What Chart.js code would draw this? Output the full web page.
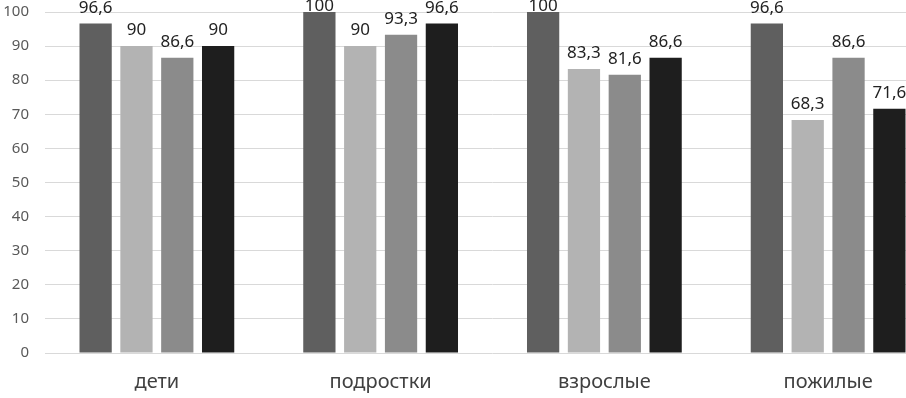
<!DOCTYPE html>
<html>
<head>
<meta charset="utf-8">
<script src="https://cdn.jsdelivr.net/npm/chart.js@4"></script>
<style>
  html, body { margin: 0; padding: 0; background: #fff; overflow: hidden; }
  #wrap { width: 940px; height: 398px; }
</style>
</head>
<body>
<div id="wrap"><canvas id="myChart"></canvas></div>
<script>
const categories = ["дети", "подростки", "взрослые", "пожилые"];
const series1 = [96.6, 100, 100, 96.6];
const series2 = [90, 90, 83.3, 68.3];
const series3 = [86.6, 93.3, 81.6, 86.6];
const series4 = [90, 96.6, 86.6, 71.6];
const yTicks = [0, 10, 20, 30, 40, 50, 60, 70, 80, 90, 100];

const fontFamily = "'Noto Sans', 'DejaVu Sans', sans-serif";

// labels over bars, excel style with comma decimals
// (kept inside the canvas at the top like excel does)
const barLabels = {
  id: "barLabels",
  afterDatasetsDraw(chart) {
    const ctx = chart.ctx;
    ctx.save();
    ctx.font = "17px " + fontFamily;
    ctx.fillStyle = "#222";
    ctx.textAlign = "center";
    ctx.textBaseline = "bottom";
    chart.data.datasets.forEach((ds, i) => {
      chart.getDatasetMeta(i).data.forEach((bar, j) => {
        const txt = String(ds.data[j]).replace(".", ",");
        ctx.fillText(txt, bar.x, Math.max(bar.y - 7, 15));
      });
    });
    ctx.restore();
  },
};

const mk = (data, color) => ({
  data: data,
  backgroundColor: color,
  borderWidth: 0,
  categoryPercentage: 0.73,
  barPercentage: 0.79,
});

new Chart("myChart", {
  type: "bar",
  data: {
    labels: categories,
    datasets: [
      mk(series1, "#5f5f5f"),
      mk(series2, "#b3b3b3"),
      mk(series3, "#8b8b8b"),
      mk(series4, "#1e1e1e"),
    ],
  },
  options: {
    responsive: true,
    maintainAspectRatio: false,
    animation: false,
    layout: { padding: 0 },
    plugins: {
      legend: { display: false },
      tooltip: { enabled: false },
    },
    scales: {
      x: {
        grid: { display: false, drawTicks: false },
        border: { display: false },
        ticks: { color: "#404040", font: { family: fontFamily, size: 20 }, padding: 17 },
        afterFit(scale) { scale.height = 45; },
      },
      y: {
        min: 0,
        max: 100,
        afterBuildTicks(scale) { scale.ticks = yTicks.map((v) => ({ value: v })); },
        grid: { color: "#d9d9d9", drawTicks: false },
        border: { display: false },
        ticks: { color: "#595959", font: { family: fontFamily, size: 15 }, padding: 16 },
        afterFit(scale) {
          scale.width = 45;
          scale.paddingTop = 12;
          scale.paddingBottom = 0;
        },
      },
    },
  },
  plugins: [barLabels],
});
</script>
</body>
</html>
